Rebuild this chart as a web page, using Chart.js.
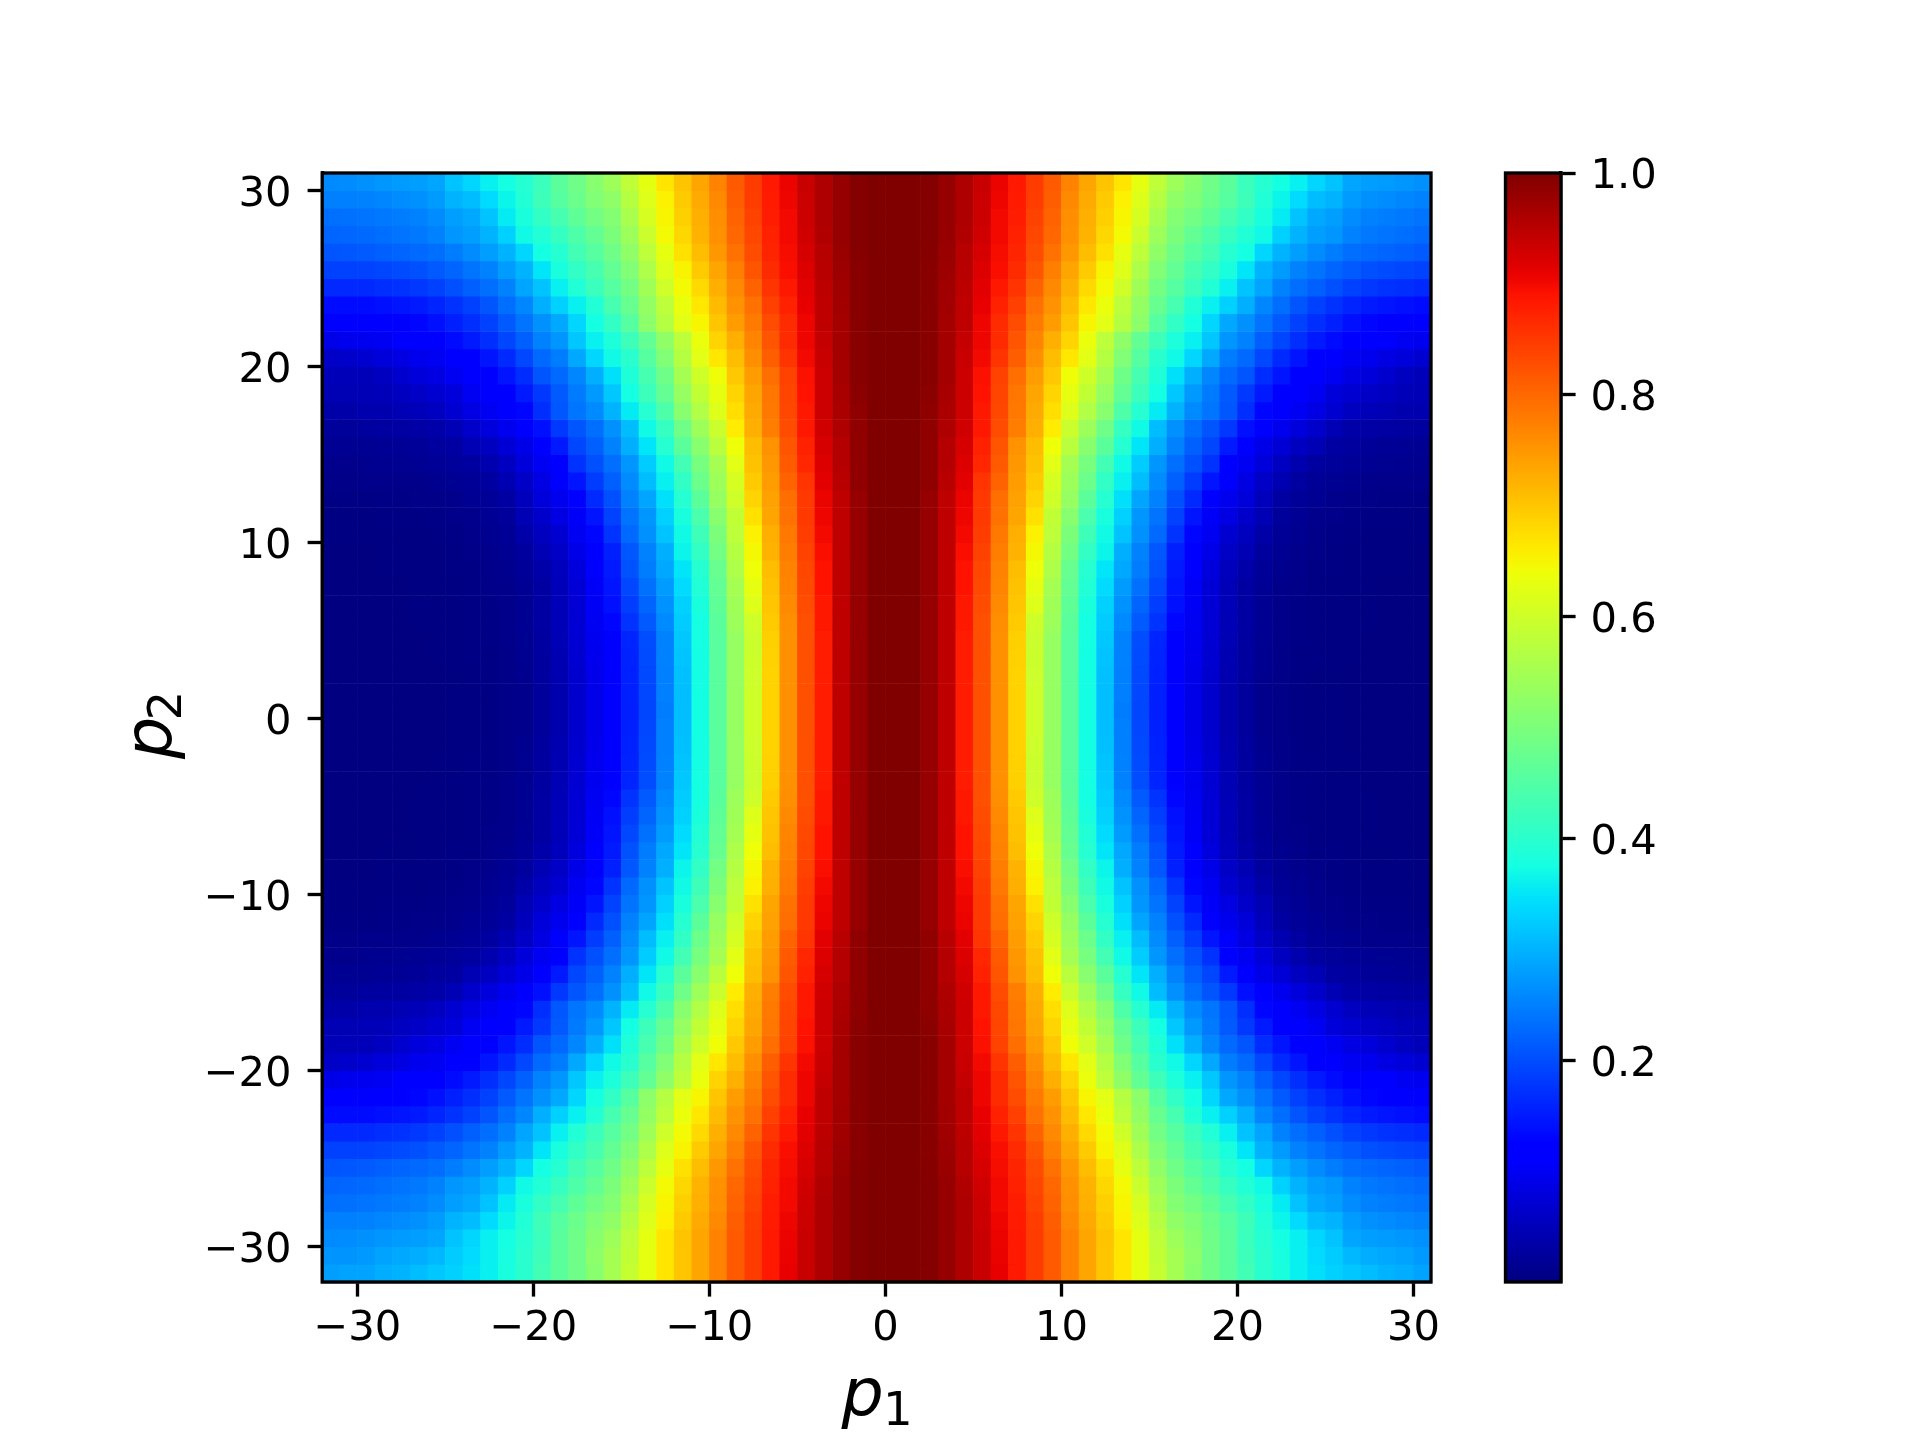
<!DOCTYPE html>
<html><head><meta charset="utf-8">
<style>html,body{margin:0;padding:0;background:#fff;width:1920px;height:1440px;overflow:hidden}
canvas{position:absolute;left:0;top:0}</style>
<script src="https://cdn.jsdelivr.net/npm/chart.js@4"></script>
</head><body>
<canvas id="main" width="1920" height="1440"></canvas>
<canvas id="bar" width="1920" height="1440"></canvas>
<script>
const xTicks=[-30,-20,-10,0,10,20,30];
const yTicks=[-30,-20,-10,0,10,20,30];
const barTicks=[0.2,0.4,0.6,0.8,1.0];
const xEdges=[-32,31], yEdges=[-32,31];
// Image values: cell [p,p+1] is looked up by |p1| (column) and |p2| (row).
const rowsByP2=[
[1,1,.98,.946,.88,.825,.756,.688,.6,.532,.459,.374,.311,.248,.194,.154,.118,.09,.066,.04,.025,.012,.007,.004,.003,.002,.001,.001,.001,.001,.001,.001,.001],
[1,1,.98,.946,.88,.825,.756,.688,.6,.532,.459,.374,.311,.25,.195,.155,.118,.09,.066,.04,.025,.012,.007,.004,.003,.002,.001,.001,.001,.001,.001,.001,.001],
[1,1,.98,.946,.88,.825,.756,.688,.598,.532,.458,.374,.313,.25,.197,.157,.12,.092,.068,.042,.026,.013,.008,.005,.003,.002,.001,.001,.001,.001,.001,.001,.001],
[1,1,.98,.946,.88,.825,.756,.689,.597,.532,.458,.374,.316,.251,.198,.158,.12,.095,.07,.044,.027,.014,.008,.005,.004,.002,.002,.001,.001,.001,.001,.001,.001],
[1,1,.98,.945,.88,.826,.757,.69,.595,.532,.458,.375,.32,.252,.2,.16,.122,.097,.072,.046,.028,.015,.009,.006,.004,.003,.002,.001,.001,.001,.001,.001,.001],
[1,1,.98,.945,.885,.825,.76,.695,.6,.54,.46,.375,.325,.26,.213,.175,.13,.1,.073,.048,.03,.016,.009,.006,.004,.003,.002,.002,.001,.001,.001,.001,.001],
[1,1,.98,.945,.885,.83,.765,.7,.62,.545,.465,.38,.33,.268,.224,.185,.14,.102,.074,.05,.03,.017,.01,.006,.004,.003,.002,.002,.001,.001,.001,.001,.001],
[1,1,.98,.945,.89,.833,.77,.705,.63,.55,.47,.39,.34,.277,.235,.195,.145,.105,.075,.05,.03,.018,.01,.007,.004,.003,.002,.002,.001,.001,.001,.001,.001],
[1,1,.98,.945,.89,.835,.772,.71,.64,.56,.475,.395,.35,.29,.248,.205,.15,.11,.08,.052,.036,.022,.013,.009,.005,.004,.003,.002,.002,.002,.001,.001,.001],
[1,1,.98,.946,.895,.84,.777,.72,.647,.57,.49,.41,.365,.297,.252,.21,.155,.12,.09,.062,.045,.027,.016,.011,.007,.004,.003,.002,.002,.002,.001,.001,.001],
[1,1,.98,.946,.9,.845,.783,.725,.655,.58,.5,.425,.37,.316,.267,.228,.175,.13,.1,.07,.055,.035,.02,.014,.01,.006,.004,.003,.003,.002,.002,.002,.002],
[1,1,.98,.946,.905,.85,.79,.735,.672,.585,.515,.44,.38,.33,.272,.238,.19,.145,.105,.085,.065,.045,.024,.018,.012,.009,.006,.005,.004,.004,.003,.003,.003],
[1,1,.98,.946,.907,.85,.793,.74,.685,.6,.532,.46,.395,.345,.287,.252,.203,.165,.12,.095,.078,.052,.03,.022,.016,.012,.008,.007,.006,.006,.005,.005,.005],
[1,1,.985,.95,.915,.855,.805,.745,.695,.61,.54,.48,.41,.36,.31,.262,.218,.184,.145,.108,.085,.062,.044,.028,.02,.016,.013,.01,.01,.009,.009,.008,.008],
[1,1,.985,.955,.92,.87,.815,.75,.705,.625,.55,.495,.43,.37,.325,.272,.233,.203,.174,.125,.1,.078,.056,.04,.028,.024,.02,.016,.015,.014,.013,.012,.012],
[1,1,.985,.955,.925,.875,.82,.755,.71,.64,.575,.515,.46,.395,.35,.297,.252,.218,.194,.15,.12,.09,.075,.056,.045,.03,.026,.022,.02,.018,.017,.016,.016],
[1,1,.985,.96,.93,.885,.83,.777,.725,.66,.595,.54,.485,.415,.37,.31,.267,.233,.208,.18,.14,.115,.095,.08,.065,.045,.036,.032,.03,.028,.026,.024,.024],
[1,1,.987,.963,.933,.885,.835,.782,.73,.675,.62,.565,.515,.445,.395,.355,.3,.26,.24,.21,.17,.13,.11,.1,.085,.07,.056,.05,.045,.04,.04,.035,.035],
[1,1,.99,.965,.933,.89,.837,.785,.735,.685,.63,.585,.532,.47,.423,.375,.32,.275,.245,.213,.18,.15,.12,.11,.1,.078,.07,.062,.056,.05,.048,.045,.045],
[1,1,.993,.968,.933,.893,.84,.794,.745,.698,.641,.6,.55,.484,.435,.387,.345,.297,.257,.228,.208,.169,.145,.12,.11,.1,.085,.078,.068,.056,.05,.05,.05],
[1,1,.993,.968,.937,.9,.855,.81,.76,.71,.665,.625,.57,.505,.455,.4,.37,.335,.29,.248,.228,.195,.165,.145,.12,.115,.1,.095,.085,.078,.07,.065,.062],
[1,1,.993,.968,.94,.905,.865,.82,.77,.725,.685,.635,.58,.525,.47,.425,.385,.36,.32,.272,.252,.218,.194,.17,.15,.135,.12,.115,.11,.1,.097,.095,.09],
[1,1,.993,.968,.945,.905,.865,.83,.78,.745,.7,.65,.625,.57,.52,.455,.41,.375,.335,.29,.267,.238,.213,.189,.17,.155,.14,.13,.125,.12,.115,.115,.112],
[1,1,.993,.97,.945,.91,.875,.842,.79,.755,.712,.665,.635,.58,.53,.475,.435,.39,.36,.33,.297,.257,.233,.208,.189,.174,.16,.15,.145,.14,.135,.135,.135],
[1,1,.993,.972,.948,.915,.885,.855,.805,.765,.725,.68,.645,.6,.545,.49,.455,.42,.39,.36,.316,.287,.252,.233,.218,.203,.189,.18,.174,.17,.165,.164,.164],
[1,1,.993,.975,.95,.92,.895,.865,.82,.775,.735,.695,.652,.62,.56,.505,.47,.435,.41,.38,.35,.3,.277,.252,.238,.223,.213,.203,.198,.194,.19,.189,.189],
[1,1,.994,.978,.952,.925,.897,.872,.83,.79,.75,.71,.672,.63,.58,.525,.485,.455,.43,.395,.375,.335,.3,.28,.262,.248,.233,.228,.223,.218,.213,.21,.208],
[1,1,.995,.98,.957,.93,.9,.875,.835,.8,.757,.72,.682,.645,.595,.54,.5,.47,.445,.415,.39,.37,.33,.3,.28,.272,.252,.243,.238,.233,.228,.225,.223],
[1,1,.995,.98,.96,.933,.9,.88,.84,.805,.76,.725,.69,.65,.61,.555,.51,.49,.465,.435,.41,.38,.355,.316,.29,.28,.262,.252,.248,.243,.238,.235,.233],
[1,1,.995,.98,.96,.935,.905,.882,.845,.81,.765,.73,.695,.655,.62,.57,.525,.505,.48,.455,.425,.39,.365,.34,.31,.3,.277,.267,.262,.257,.252,.25,.25],
[1,1,.995,.98,.959,.937,.907,.884,.846,.815,.772,.735,.703,.668,.629,.581,.54,.515,.485,.46,.42,.395,.375,.36,.335,.316,.287,.28,.277,.272,.267,.262,.26],
[1,1,.995,.98,.959,.937,.908,.884,.846,.815,.772,.735,.7,.668,.63,.585,.55,.52,.485,.46,.425,.4,.378,.36,.34,.325,.305,.295,.29,.285,.275,.27,.27],
[1,1,.995,.98,.959,.937,.91,.884,.846,.815,.772,.735,.7,.668,.63,.59,.55,.515,.485,.46,.43,.4,.38,.36,.345,.33,.32,.31,.3,.295,.285,.285,.28]
];

function lerp(v,pts){
  if(v<=pts[0][0])return pts[0][1];
  for(let i=1;i<pts.length;i++){
    if(v<=pts[i][0]){const a=pts[i-1],b=pts[i];return a[1]+(b[1]-a[1])*(v-a[0])/(b[0]-a[0]);}
  }
  return pts[pts.length-1][1];
}
function jet(v){
  const r=lerp(v,[[0,0],[.35,0],[.66,1],[.89,1],[1,.5]]);
  const g=lerp(v,[[0,0],[.125,0],[.375,1],[.64,1],[.91,0],[1,0]]);
  const b=lerp(v,[[0,.5],[.11,1],[.34,1],[.65,0],[1,0]]);
  return `rgb(${Math.round(r*255)},${Math.round(g*255)},${Math.round(b*255)})`;
}

const cells=[];
for(let l=yEdges[0];l<yEdges[1];l++){
  for(let k=xEdges[0];k<xEdges[1];k++){
    cells.push({x:k+.5,y:l+.5,v:rowsByP2[Math.abs(l)][Math.abs(k)]});
  }
}
const INK='#000', LW=3.33, TICK=14.6, FONT="'DejaVu Sans'", FS=41.67;
const minus=v=>v<0?'\u2212'+(-v):String(v);
const frame={id:'frame',afterDraw(c){const a=c.chartArea,x=c.ctx;x.save();x.strokeStyle=INK;x.lineWidth=LW;x.strokeRect(a.left,a.top,a.right-a.left,a.bottom-a.top);x.restore();}};
// Canvas "middle" sits above the digit centre; nudge the vertical-axis labels onto it.
const nudgeLabels={id:'nudgeLabels',beforeDraw(c){
  const s=c.scales.y;
  if(s._nudged)return;
  s.getLabelItems(c.chartArea).forEach(i=>{i.options.translation[1]+=4.5;});
  s._nudged=true;
}};
const axisText={id:'axisText',afterDraw(c){
  const x=c.ctx;
  x.save();x.fillStyle=INK;x.textAlign='left';x.textBaseline='alphabetic';
  x.font=`italic 66.67px ${FONT}`;x.fillText('p',841.5,1415);
  x.font=`46.67px ${FONT}`;x.fillText('1',883,1425);
  x.translate(170.5,759);x.rotate(-Math.PI/2);
  x.font=`italic 66.67px ${FONT}`;x.fillText('p',0,0);
  x.font=`46.67px ${FONT}`;x.fillText('2',38.5,10);
  x.restore();
}};
const axisBase=t=>({
  type:'linear',
  grid:{display:true,drawOnChartArea:false,drawTicks:true,tickLength:TICK,tickWidth:LW,tickColor:INK},
  border:{display:true,color:INK,width:LW},
  afterBuildTicks:s=>{s.ticks=t.map(value=>({value}));}
});
new Chart(document.getElementById('main'),{
  type:'scatter',
  plugins:[nudgeLabels,frame,axisText],
  data:{datasets:[{label:'value',data:cells,clip:0,pointStyle:'rect',borderWidth:0,
    pointBorderWidth:0,pointHoverRadius:0,
    pointBackgroundColor:c=>jet(c.raw.v),
    pointRadius:c=>{const s=c.chart.scales.x,h=Math.abs(s.getPixelForValue(1)-s.getPixelForValue(0));return (h+0.6)/2*Math.SQRT2;}
  }]},
  options:{
    responsive:false,animation:false,devicePixelRatio:1,
    layout:{padding:{left:0,top:173,right:1920-1431,bottom:0}},
    plugins:{legend:{display:false},tooltip:{enabled:false},title:{display:false}},
    scales:{
      x:{...axisBase(xTicks),min:xEdges[0],max:xEdges[1],
        afterFit:s=>{s.height=158;},
        ticks:{autoSkip:false,maxRotation:0,minRotation:0,padding:8,color:INK,font:{family:FONT,size:FS},callback:minus}},
      y:{...axisBase(yTicks),min:yEdges[0],max:yEdges[1],
        afterFit:s=>{s.width=322.2;},
        ticks:{autoSkip:false,padding:16,color:INK,font:{family:FONT,size:FS},callback:minus}}
    }
  }
});
const gradientBar={id:'gradientBar',beforeDatasetsDraw(c){
  const a=c.chartArea,s=c.scales.y,x=c.ctx;
  const y0=s.getPixelForValue(s.min),y1=s.getPixelForValue(s.max);
  const g=x.createLinearGradient(0,y0,0,y1);
  for(let i=0;i<=64;i++){const t=i/64;g.addColorStop(t,jet(s.min+(s.max-s.min)*t));}
  x.save();x.fillStyle=g;x.fillRect(a.left,a.top,a.right-a.left,a.bottom-a.top);x.restore();
}};
new Chart(document.getElementById('bar'),{
  type:'scatter',
  plugins:[nudgeLabels,gradientBar,frame],
  data:{datasets:[{data:[],pointRadius:0}]},
  options:{
    responsive:false,animation:false,devicePixelRatio:1,
    layout:{padding:{left:1505.5,top:173,right:0,bottom:158}},
    plugins:{legend:{display:false},tooltip:{enabled:false},title:{display:false}},
    scales:{
      x:{display:false,min:0,max:1},
      y:{...axisBase(barTicks),position:'right',min:.0005,max:1,
        afterFit:s=>{s.width=1920-1561;},
        ticks:{autoSkip:false,padding:15,color:INK,font:{family:FONT,size:FS},callback:v=>v.toFixed(1)}}
    }
  }
});
</script>
</body></html>
